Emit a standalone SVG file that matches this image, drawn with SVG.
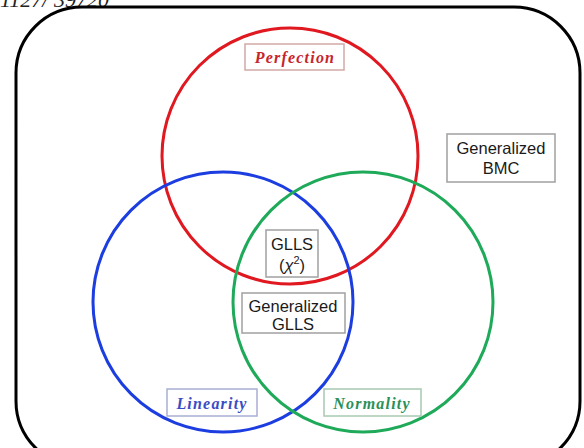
<svg xmlns="http://www.w3.org/2000/svg" width="584" height="448" viewBox="0 0 584 448">
<style>
.frame{fill:none;stroke:#000;stroke-width:3}
.c{fill:none;stroke-width:3}
.box{fill:#fff;stroke:#a0a0a0;stroke-width:1.5}
.t{font-family:"Liberation Sans",Arial,sans-serif;font-size:16.5px;fill:#1a1a1a;text-anchor:middle}
.it{font-family:"Liberation Serif","DejaVu Serif",serif;font-style:italic;font-weight:bold;font-size:16px;letter-spacing:1.2px;text-anchor:middle}
</style>
<rect width="584" height="448" fill="#fff"/>
<text x="0" y="7" font-family="Liberation Serif,serif" font-style="italic" font-size="22" fill="#222">1127/ 39720</text>
<rect class="frame" x="16" y="7" width="564" height="460" rx="66"/>
<g id="perfection-set"><circle class="c" cx="290" cy="156" r="128" stroke="#e01820"/></g>
<g id="linearity-set"><circle class="c" cx="223" cy="302" r="130" stroke="#1c3ee0"/></g>
<g id="normality-set"><circle class="c" cx="363" cy="302" r="130" stroke="#1faa5a"/></g>
<g id="connectors"></g>
<g id="perfection-label"><rect x="245" y="44" width="99" height="26" fill="#fff" stroke="#d4a8a8" stroke-width="1.5"/><text class="it" x="295" y="63" fill="#c8242c">Perfection</text></g>
<g id="linearity-label"><rect x="167" y="389" width="90" height="27" fill="#fff" stroke="#a8aed4" stroke-width="1.5"/><text class="it" x="212" y="409" fill="#3a4cc4">Linearity</text></g>
<g id="normality-label"><rect x="324" y="389" width="97" height="27" fill="#fff" stroke="#a8c8b0" stroke-width="1.5"/><text class="it" x="372" y="409" fill="#2a9058">Normality</text></g>
<g id="glls"><rect class="box" x="266" y="230" width="52" height="47"/><text class="t" x="292" y="250">GLLS</text><text class="t" x="292" y="271" font-family="Liberation Serif,serif" font-size="18">(<tspan font-style="italic">χ</tspan><tspan font-size="11" dy="-7">2</tspan><tspan dy="7">)</tspan></text></g>
<g id="generalized-glls"><rect class="box" x="242" y="293" width="103" height="40"/><text class="t" x="293" y="312">Generalized</text><text class="t" x="293" y="330">GLLS</text></g>
<g id="generalized-bmc"><rect class="box" x="447" y="134" width="108" height="48"/><text class="t" x="501" y="154">Generalized</text><text class="t" x="501" y="174">BMC</text></g>
</svg>
